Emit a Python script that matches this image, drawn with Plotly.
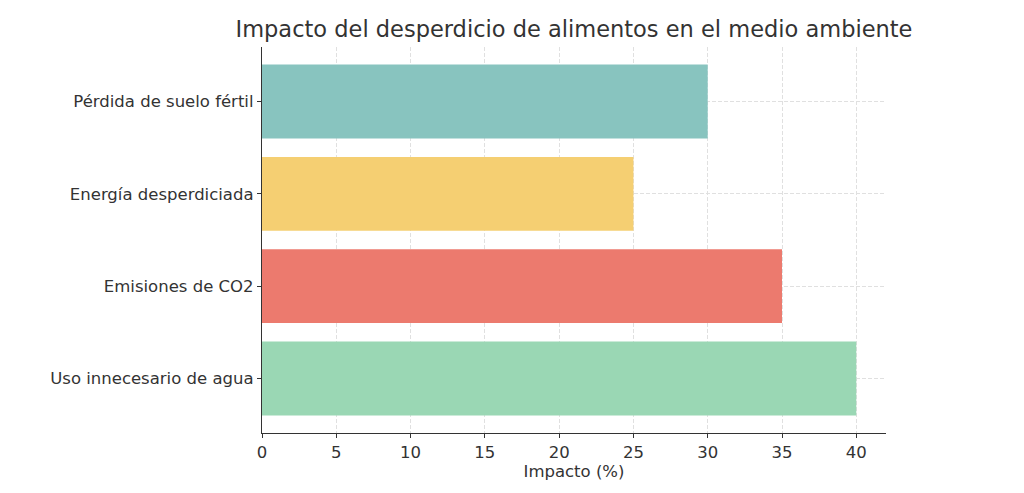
import plotly.graph_objects as go

categories = ["Uso innecesario de agua", "Emisiones de CO2", "Energía desperdiciada", "Pérdida de suelo fértil"]
values = [40, 35, 25, 30]
colors = ["#9ad7b4", "#ec7a6e", "#f5cf72", "#88c4bf"]
x_ticks = [0, 5, 10, 15, 20, 25, 30, 35, 40]

fig = go.Figure(go.Bar(
    y=categories, x=values, orientation="h",
    marker=dict(color=colors, line=dict(width=0)),
    width=0.8,
))

font = "DejaVu Sans, Verdana, sans-serif"
fig.update_layout(
    width=1024, height=493,
    margin=dict(l=262, r=138, t=47, b=60),
    plot_bgcolor="white", paper_bgcolor="white",
    font=dict(family=font, size=16.5, color="#333333"),
    title=dict(text="Impacto del desperdicio de alimentos en el medio ambiente",
               x=0.5, xref="paper", xanchor="center", y=0.94, yanchor="middle",
               font=dict(size=22.5, color="#333333")),
    showlegend=False,
    bargap=0.2,
)
fig.update_xaxes(
    range=[0, 42], tickvals=x_ticks, ticktext=[str(t) for t in x_ticks],
    showgrid=True, gridcolor="#e0e0e0", griddash="4px,2px", gridwidth=1,
    showline=True, linecolor="#333333", linewidth=1.3,
    ticks="outside", ticklen=4, tickcolor="#333333",
    title=dict(text="Impacto (%)", font=dict(size=16.5), standoff=4),
    zeroline=False,
)
fig.update_yaxes(
    range=[-0.59, 3.59], categoryorder="array", categoryarray=categories,
    showgrid=True, gridcolor="#e0e0e0", griddash="4px,2px", gridwidth=1,
    showline=True, linecolor="#333333", linewidth=1.3,
    ticks="outside", ticklen=4, tickcolor="#333333",
    zeroline=False,
)
fig.write_html("out.html")
